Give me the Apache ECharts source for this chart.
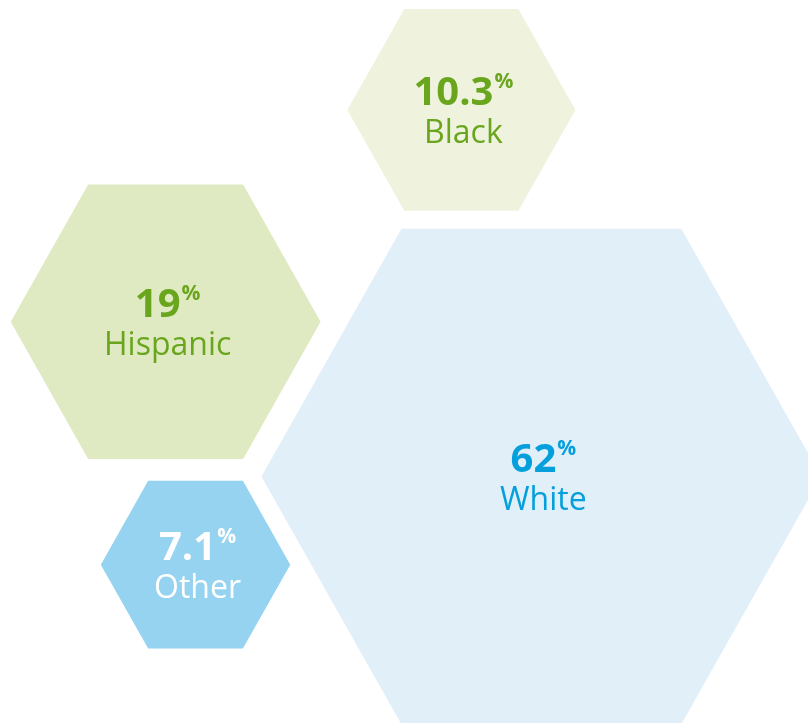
<!DOCTYPE html>
<html>
<head>
<meta charset="utf-8">
<script src="https://cdn.jsdelivr.net/npm/echarts@6/dist/echarts.min.js"></script>
<style>
html,body{margin:0;padding:0;background:#fff;}
#chart{width:808px;height:723px;}
</style>
</head>
<body>
<div id="chart"></div>
<script>
// ---- data ----
const categories = ['White', 'Hispanic', 'Black', 'Other'];
const shares = [62, 19, 10.3, 7.1];          // percent of population
const layoutX = [67.0, 20.5, 57.1, 24.2];     // bubble layout position (0-100 scale)
const layoutY = [34.1, 55.5, 84.8, 21.9];     // bubble layout position (0-100 scale)

// ---- styles ----
const fills = ['#e1eff9', '#dfeac3', '#eff3de', '#95d3f1'];
const textColors = ['#05a0dc', '#6aa61d', '#6aa61d', '#ffffff'];
const SIZE_K = 8.8;       // hex width (x-axis units) per sqrt(percent)
const HEX_RATIO = 0.885;  // height / width

const chart = echarts.init(document.getElementById('chart'));
const data = categories.map((c, i) => [layoutX[i], layoutY[i], shares[i], i]);

chart.setOption({
  animation: false,
  grid: { left: 0, right: 0, top: 0, bottom: 0 },
  xAxis: { type: 'value', min: 0, max: 100, show: false },
  yAxis: { type: 'value', min: 0, max: 100, show: false },
  series: [{
    type: 'custom',
    coordinateSystem: 'cartesian2d',
    data: data,
    renderItem: function (params, api) {
      const i = api.value(3);
      const v = api.value(2);
      const c = api.coord([api.value(0), api.value(1)]);
      const w = api.size([SIZE_K * Math.sqrt(v), 0])[0];
      const h = w * HEX_RATIO;
      const cx = c[0], cy = c[1];
      const pts = [
        [cx - w / 2, cy],
        [cx - w / 4, cy - h / 2],
        [cx + w / 4, cy - h / 2],
        [cx + w / 2, cy],
        [cx + w / 4, cy + h / 2],
        [cx - w / 4, cy + h / 2]
      ];
      const col = textColors[i];
      return {
        type: 'group',
        children: [
          { type: 'polygon', shape: { points: pts }, style: { fill: fills[i] } },
          {
            type: 'text',
            style: {
              x: cx + 2, y: cy + 3,
              align: 'center', verticalAlign: 'middle',
              text: '{n|' + v + '}{p|%}\n{l|' + categories[i] + '}',
              rich: {
                n: { fontSize: 40, fontWeight: 'bold', fontFamily: 'Open Sans', fill: col, lineHeight: 42, verticalAlign: 'bottom' },
                p: { fontSize: 21, fontWeight: 'bold', fontFamily: 'Open Sans', fill: col, lineHeight: 38, verticalAlign: 'top', padding: [0, 0, 0, 1] },
                l: { fontSize: 32, fontFamily: 'Open Sans', fill: col, lineHeight: 40 }
              }
            }
          }
        ]
      };
    }
  }]
});
</script>
</body>
</html>
